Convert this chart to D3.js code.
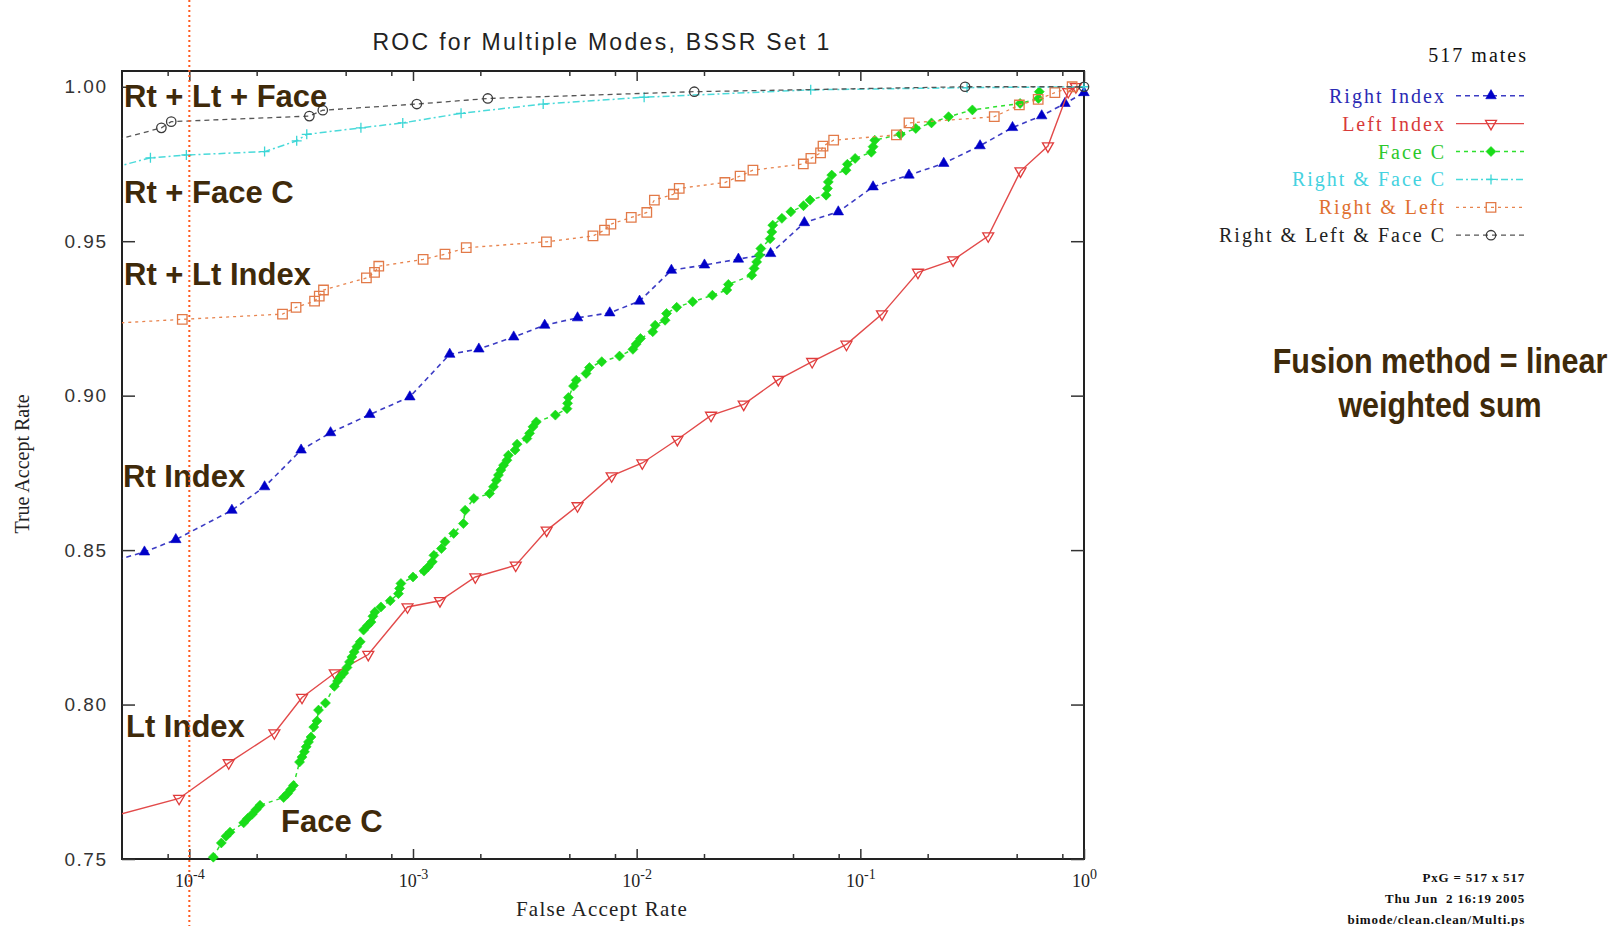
<!DOCTYPE html>
<html>
<head>
<meta charset="utf-8">
<title>ROC for Multiple Modes, BSSR Set 1</title>
<script src="https://d3js.org/d3.v7.min.js"></script>
<style>
  body { margin: 0; background: #fff; }
  svg { display: block; }
</style>
</head>
<body>
<div id="chart-area"></div>
<script>
// ================= DATA =================
var seriesNames = ["Right Index", "Left Index", "Face C", "Right & Face C", "Right & Left", "Right & Left & Face C"];

var rightIndexFar = [4.0e-5, 6.3e-5, 8.7e-5, 1.55e-4, 2.17e-4, 3.16e-4, 4.28e-4, 6.41e-4, 9.68e-4, 1.46e-3,
    1.97e-3, 2.82e-3, 3.88e-3, 5.44e-3, 7.58e-3, 1.03e-2, 1.43e-2, 2.01e-2, 2.85e-2, 3.97e-2,
    5.62e-2, 7.97e-2, 0.114, 0.165, 0.236, 0.343, 0.479, 0.647, 0.822, 1.0];
var rightIndexTar = [0.8453, 0.8494, 0.8534, 0.8629, 0.8705, 0.8824, 0.8880, 0.8939, 0.8996, 0.9134,
    0.9151, 0.9190, 0.9228, 0.9252, 0.9268, 0.9306, 0.9406, 0.9423, 0.9442, 0.9460,
    0.9560, 0.9595, 0.9676, 0.9714, 0.9752, 0.9809, 0.9868, 0.9906, 0.9946, 0.9981];

var leftIndexFar = [4.0e-5, 9.0e-5, 1.50e-4, 2.40e-4, 3.19e-4, 4.47e-4, 6.31e-4, 9.45e-4, 1.32e-3, 1.90e-3,
    2.88e-3, 3.96e-3, 5.44e-3, 7.73e-3, 1.06e-2, 1.52e-2, 2.15e-2, 3.01e-2, 4.30e-2, 6.09e-2,
    8.67e-2, 0.125, 0.181, 0.260, 0.373, 0.520, 0.690, 0.850, 0.920];
var leftIndexTar = [0.7628, 0.7696, 0.7811, 0.7908, 0.8023, 0.8102, 0.8162, 0.8316, 0.8336, 0.8413,
    0.8451, 0.8564, 0.8643, 0.8740, 0.8782, 0.8858, 0.8936, 0.8972, 0.9052, 0.9110,
    0.9166, 0.9264, 0.9399, 0.9439, 0.9517, 0.9727, 0.9808, 0.9984, 1.0000];

var faceCFar = [1.28e-4, 1.39e-4, 1.46e-4, 1.52e-4, 1.75e-4, 1.82e-4, 1.91e-4, 1.99e-4, 2.07e-4, 2.64e-4,
    2.75e-4, 2.84e-4, 2.92e-4, 3.11e-4, 3.19e-4, 3.27e-4, 3.33e-4, 3.41e-4, 3.50e-4, 3.60e-4,
    3.72e-4, 3.78e-4, 4.06e-4, 4.45e-4, 4.60e-4, 4.73e-4, 4.90e-4, 5.07e-4, 5.20e-4, 5.33e-4,
    5.46e-4, 5.61e-4, 5.81e-4, 6.01e-4, 6.27e-4, 6.49e-4, 6.62e-4, 6.76e-4, 7.19e-4, 7.91e-4,
    8.61e-4, 8.71e-4, 8.83e-4, 1.00e-3, 1.12e-3, 1.17e-3, 1.22e-3, 1.24e-3, 1.34e-3, 1.39e-3,
    1.52e-3, 1.68e-3, 1.71e-3, 1.87e-3, 2.20e-3, 2.29e-3, 2.36e-3, 2.41e-3, 2.47e-3, 2.54e-3,
    2.63e-3, 2.67e-3, 2.86e-3, 2.92e-3, 3.23e-3, 3.32e-3, 3.44e-3, 3.56e-3, 4.33e-3, 4.88e-3,
    4.91e-3, 4.95e-3, 5.22e-3, 5.37e-3, 5.94e-3, 6.15e-3, 6.98e-3, 8.38e-3, 9.62e-3, 9.95e-3,
    1.04e-2, 1.18e-2, 1.21e-2, 1.34e-2, 1.36e-2, 1.51e-2, 1.78e-2, 2.18e-2, 2.53e-2, 2.57e-2,
    3.27e-2, 3.35e-2, 3.44e-2, 3.54e-2, 3.59e-2, 3.95e-2, 4.02e-2, 4.06e-2, 4.46e-2, 4.89e-2,
    5.57e-2, 5.96e-2, 7.03e-2, 7.13e-2, 7.19e-2, 7.45e-2, 8.63e-2, 8.75e-2, 9.48e-2, 0.112,
    0.114, 0.116, 0.151, 0.177, 0.208, 0.248, 0.317, 0.518, 0.625, 0.631];
var faceCTar = [0.7506, 0.7552, 0.7574, 0.7587, 0.7617, 0.7631, 0.7645, 0.7660, 0.7674, 0.7699,
    0.7712, 0.7725, 0.7738, 0.7814, 0.7830, 0.7847, 0.7863, 0.7879, 0.7895, 0.7927,
    0.7947, 0.7982, 0.8005, 0.8059, 0.8076, 0.8089, 0.8102, 0.8120, 0.8138, 0.8154,
    0.8170, 0.8187, 0.8203, 0.8241, 0.8256, 0.8267, 0.8286, 0.8300, 0.8316, 0.8336,
    0.8359, 0.8376, 0.8392, 0.8413, 0.8432, 0.8446, 0.8462, 0.8483, 0.8505, 0.8527,
    0.8554, 0.8586, 0.8629, 0.8667, 0.8683, 0.8705, 0.8726, 0.8743, 0.8759, 0.8775,
    0.8791, 0.8807, 0.8824, 0.8843, 0.8861, 0.8878, 0.8899, 0.8915, 0.8937, 0.8958,
    0.8975, 0.8994, 0.9031, 0.9050, 0.9072, 0.9091, 0.9110, 0.9128, 0.9150, 0.9167,
    0.9185, 0.9207, 0.9228, 0.9244, 0.9266, 0.9286, 0.9304, 0.9325, 0.9342, 0.9360,
    0.9390, 0.9412, 0.9433, 0.9455, 0.9476, 0.9508, 0.9530, 0.9552, 0.9574, 0.9595,
    0.9615, 0.9633, 0.9649, 0.9671, 0.9692, 0.9714, 0.9730, 0.9749, 0.9768, 0.9788,
    0.9806, 0.9827, 0.9846, 0.9865, 0.9883, 0.9903, 0.9925, 0.9946, 0.9962, 0.9984];

var rightFaceFar = [4.0e-5, 6.7e-5, 9.7e-5, 2.17e-4, 3.02e-4, 3.35e-4, 5.85e-4, 9.0e-4, 1.64e-3, 3.82e-3,
    1.08e-2, 6.0e-2, 0.30, 1.0];
var rightFaceTar = [0.9727, 0.9770, 0.9779, 0.9790, 0.9825, 0.9846, 0.9867, 0.9883, 0.9914, 0.9944,
    0.9966, 0.9990, 0.9997, 1.0000];

var rightLeftFar = [4.0e-5, 9.3e-5, 2.61e-4, 3.00e-4, 3.63e-4, 3.81e-4, 3.98e-4, 6.19e-4, 6.73e-4, 7.03e-4,
    1.11e-3, 1.39e-3, 1.73e-3, 3.95e-3, 6.38e-3, 7.18e-3, 7.67e-3, 9.46e-3, 1.11e-2, 1.20e-2,
    1.46e-2, 1.55e-2, 2.48e-2, 2.90e-2, 3.31e-2, 5.56e-2, 6.01e-2, 6.64e-2, 6.81e-2, 7.60e-2,
    0.145, 0.165, 0.397, 0.514, 0.624, 0.741, 0.885];
var rightLeftTar = [0.9232, 0.9247, 0.9264, 0.9286, 0.9306, 0.9322, 0.9342, 0.9381, 0.9399, 0.9419,
    0.9441, 0.9458, 0.9479, 0.9498, 0.9517, 0.9536, 0.9555, 0.9577, 0.9593, 0.9633,
    0.9652, 0.9671, 0.9690, 0.9711, 0.9730, 0.9750, 0.9768, 0.9786, 0.9808, 0.9827,
    0.9844, 0.9883, 0.9903, 0.9941, 0.9959, 0.9981, 1.0000];

var allThreeFar = [4.0e-5, 7.5e-5, 8.3e-5, 3.44e-4, 3.95e-4, 1.04e-3, 2.16e-3, 1.81e-2, 0.294, 1.0];
var allThreeTar = [0.9814, 0.9867, 0.9887, 0.9905, 0.9924, 0.9944, 0.9962, 0.9984, 1.0000, 1.0000];

var yTicks = [0.75, 0.80, 0.85, 0.90, 0.95, 1.00];
var xMajor = [1e-4, 1e-3, 1e-2, 1e-1, 1];
var xTickExp = ["-4", "-3", "-2", "-1", "0"];
var xMinor = [8e-5, 2e-4, 5e-4, 8e-4, 2e-3, 5e-3, 8e-3, 2e-2, 5e-2, 8e-2, 0.2, 0.5, 0.8];

var annotations = ["Rt + Lt + Face", "Rt + Face C", "Rt + Lt Index", "Rt Index", "Lt Index", "Face C"];
var fusionLines = ["Fusion method = linear", "weighted sum"];
var footerLines = ["PxG = 517 x 517", "Thu Jun  2 16:19 2005", "bimode/clean.clean/Multi.ps"];

// ================= STYLE / LAYOUT =================
var SANS = "'Liberation Sans', Arial, Helvetica, sans-serif";
var SERIF = "'Liberation Serif', 'Times New Roman', serif";
var BROWN = "#3f2a0a";

var plotL = 122, plotR = 1084, plotT = 71, plotB = 859;

var styles = [
    {line: "#3c3cc4", dash: "5,4", w: 1.6, marker: "triUp", mc: "#0000c8", filled: true, text: "#2a2ab4"},
    {line: "#e24a4a", dash: null, w: 1.4, marker: "triDown", mc: "#e03c3c", filled: false, text: "#d83a3a"},
    {line: "#2ee02e", dash: "4,4", w: 1.5, marker: "diamond", mc: "#18dc18", filled: true, text: "#2cc82c"},
    {line: "#4adada", dash: "7,3,2,3", w: 1.5, marker: "plus", mc: "#3cd6d6", filled: false, text: "#44d2e0"},
    {line: "#e8844e", dash: "3,4", w: 1.3, marker: "square", mc: "#e27a48", filled: false, text: "#e07030"},
    {line: "#555555", dash: "5,4", w: 1.3, marker: "circle", mc: "#3a3a3a", filled: false, text: "#222222"}
];

var seriesData = [
    d3.zip(rightIndexFar, rightIndexTar),
    d3.zip(leftIndexFar, leftIndexTar),
    d3.zip(faceCFar, faceCTar),
    d3.zip(rightFaceFar, rightFaceTar),
    d3.zip(rightLeftFar, rightLeftTar),
    d3.zip(allThreeFar, allThreeTar)
];

var x = d3.scaleLog().domain([5e-5, 1]).range([plotL, plotR]);
var y = d3.scaleLinear().domain([0.75, 1.0051]).range([plotB, plotT]);

var svg = d3.select("#chart-area").append("svg")
    .attr("width", 1617)
    .attr("height", 926);

svg.append("rect").attr("width", 1617).attr("height", 926).attr("fill", "#fff");

svg.append("defs").append("clipPath").attr("id", "plotClip")
    .append("rect")
    .attr("x", plotL).attr("y", plotT)
    .attr("width", plotR - plotL).attr("height", plotB - plotT);

// title
svg.append("text")
    .attr("x", 602).attr("y", 50)
    .attr("text-anchor", "middle")
    .attr("font-family", SANS).attr("font-size", 23)
    .attr("letter-spacing", 2.3)
    .attr("fill", "#222")
    .text("ROC for Multiple Modes, BSSR Set 1");

// frame
svg.append("rect")
    .attr("x", plotL).attr("y", plotT)
    .attr("width", plotR - plotL).attr("height", plotB - plotT)
    .attr("fill", "none").attr("stroke", "#222").attr("stroke-width", 2);

function styleTicks(g) {
    g.select(".domain").remove();
    g.selectAll(".tick line").attr("stroke", "#333").attr("stroke-width", 1.5);
}

// x axis bottom
var gxb = svg.append("g")
    .attr("transform", "translate(0," + plotB + ")")
    .call(d3.axisBottom(x).tickValues(xMajor).tickSizeInner(-10).tickSizeOuter(0)
        .tickPadding(15).tickFormat(function() { return ""; }));
styleTicks(gxb);
gxb.selectAll(".tick text")
    .attr("font-family", SERIF).attr("font-size", 18).attr("fill", "#222")
    .each(function(d, i) {
        var t = d3.select(this);
        t.append("tspan").text("10");
        t.append("tspan").attr("dy", -8).attr("font-size", 14).text(xTickExp[i]);
    });
var gxbm = svg.append("g")
    .attr("transform", "translate(0," + plotB + ")")
    .call(d3.axisBottom(x).tickValues(xMinor).tickSizeInner(-5).tickSizeOuter(0).tickFormat(""));
styleTicks(gxbm);

// x axis top
var gxt = svg.append("g")
    .attr("transform", "translate(0," + plotT + ")")
    .call(d3.axisTop(x).tickValues(xMajor).tickSizeInner(-10).tickSizeOuter(0).tickFormat(""));
styleTicks(gxt);
var gxtm = svg.append("g")
    .attr("transform", "translate(0," + plotT + ")")
    .call(d3.axisTop(x).tickValues(xMinor).tickSizeInner(-5).tickSizeOuter(0).tickFormat(""));
styleTicks(gxtm);

// y axis left / right
var gyl = svg.append("g")
    .attr("transform", "translate(" + plotL + ",0)")
    .call(d3.axisLeft(y).tickValues(yTicks).tickSizeInner(-13).tickSizeOuter(0)
        .tickPadding(14.5).tickFormat(d3.format(".2f")));
styleTicks(gyl);
gyl.selectAll(".tick text")
    .attr("font-family", SANS).attr("font-size", 19)
    .attr("letter-spacing", 1.5).attr("fill", "#333");

var gyr = svg.append("g")
    .attr("transform", "translate(" + plotR + ",0)")
    .call(d3.axisRight(y).tickValues(yTicks).tickSizeInner(-13).tickSizeOuter(0).tickFormat(""));
styleTicks(gyr);

// axis labels
svg.append("text")
    .attr("x", 602).attr("y", 916)
    .attr("text-anchor", "middle")
    .attr("font-family", SERIF).attr("font-size", 21).attr("letter-spacing", 1.2)
    .attr("fill", "#222")
    .text("False Accept Rate");

svg.append("text")
    .attr("transform", "translate(29,464) rotate(-90)")
    .attr("text-anchor", "middle")
    .attr("font-family", SERIF).attr("font-size", 20)
    .attr("fill", "#222")
    .text("True Accept Rate");

// markers
function markerPath(type) {
    if (type === "triUp") return d3.symbol(d3.symbolTriangle, 48)();
    if (type === "triDown") return d3.symbol(d3.symbolTriangle, 52)();
    if (type === "square") return d3.symbol(d3.symbolSquare, 90)();
    if (type === "circle") return d3.symbol(d3.symbolCircle, 70)();
    if (type === "diamond") return "M0,-5L5,0L0,5L-5,0Z";
    return "M-5,0H5M0,-5V5";
}

function drawMarker(sel, st) {
    sel.append("path")
        .attr("d", markerPath(st.marker))
        .attr("transform", function(d) {
            var t = "translate(" + d.px + "," + d.py + ")";
            return st.marker === "triDown" ? t + " rotate(180)" : t;
        })
        .attr("fill", st.filled ? st.mc : "none")
        .attr("stroke", st.mc)
        .attr("stroke-width", st.filled ? 0.6 : 1.3);
}

var line = d3.line()
    .x(function(d) { return x(d[0]); })
    .y(function(d) { return y(d[1]); });

var plot = svg.append("g");

seriesData.forEach(function(pts, i) {
    var st = styles[i];
    plot.append("path")
        .datum(pts)
        .attr("clip-path", "url(#plotClip)")
        .attr("d", line)
        .attr("fill", "none")
        .attr("stroke", st.line)
        .attr("stroke-width", st.w)
        .attr("stroke-dasharray", st.dash);

    var inside = pts.filter(function(d) { return d[0] >= 5e-5; })
        .map(function(d) { return {px: x(d[0]), py: y(d[1])}; });
    plot.append("g").selectAll("g")
        .data(inside)
        .enter()
        .append("g")
        .each(function(d) { drawMarker(d3.select(this), st); });
});

// legend
svg.append("text")
    .attr("x", 1528).attr("y", 62)
    .attr("text-anchor", "end")
    .attr("font-family", SERIF).attr("font-size", 20).attr("letter-spacing", 2)
    .attr("fill", "#111")
    .text("517 mates");

seriesNames.forEach(function(name, i) {
    var st = styles[i];
    var by = 102.7 + i * 27.9;
    svg.append("text")
        .attr("x", 1446).attr("y", by)
        .attr("text-anchor", "end")
        .attr("font-family", SERIF).attr("font-size", 20).attr("letter-spacing", 2)
        .attr("fill", st.text)
        .text(name);
    svg.append("line")
        .attr("x1", 1456).attr("x2", 1524)
        .attr("y1", by - 7).attr("y2", by - 7)
        .attr("stroke", st.line).attr("stroke-width", st.w)
        .attr("stroke-dasharray", st.dash);
    drawMarker(svg.append("g").datum({px: 1491, py: by - 7}), st);
});

// annotations
var annoPos = [[124, 107], [124, 203], [124, 285], [123, 487], [126, 737], [281, 832]];
annotations.forEach(function(a, i) {
    svg.append("text")
        .attr("x", annoPos[i][0]).attr("y", annoPos[i][1])
        .attr("font-family", SANS).attr("font-weight", "bold").attr("font-size", 31)
        .attr("fill", BROWN)
        .text(a);
});

// fusion note (tall, narrow bold text)
fusionLines.forEach(function(t, i) {
    svg.append("text")
        .attr("transform", "translate(1440," + (373 + i * 44) + ") scale(1,1.14)")
        .attr("text-anchor", "middle")
        .attr("font-family", SANS).attr("font-weight", "bold").attr("font-size", 30.5)
        .attr("fill", BROWN)
        .text(t);
});

// footer
footerLines.forEach(function(t, i) {
    svg.append("text")
        .attr("x", 1525).attr("y", 882 + i * 21)
        .attr("text-anchor", "end")
        .attr("font-family", SERIF).attr("font-weight", "bold").attr("font-size", 13)
        .attr("letter-spacing", 0.8)
        .style("white-space", "pre")
        .attr("fill", "#111")
        .text(t);
});

// red dotted marker line at 10^-4
svg.append("line")
    .attr("x1", x(1e-4)).attr("x2", x(1e-4))
    .attr("y1", 0).attr("y2", 926)
    .attr("stroke", "#ff5a1f").attr("stroke-width", 2)
    .attr("stroke-dasharray", "2,3");
</script>
</body>
</html>
